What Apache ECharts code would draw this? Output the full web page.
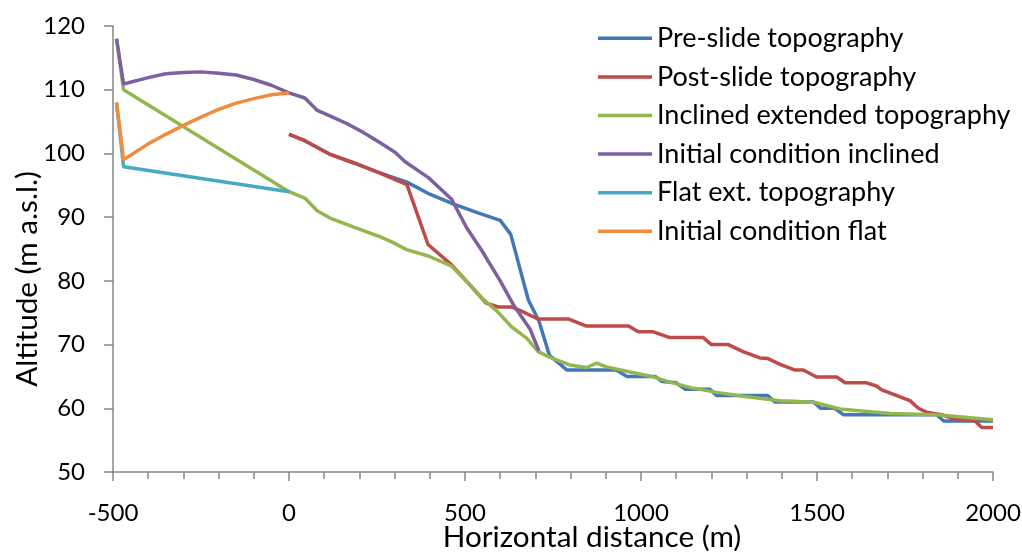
<!DOCTYPE html>
<html>
<head>
<meta charset="utf-8">
<script src="https://cdn.jsdelivr.net/npm/echarts@6/dist/echarts.min.js"></script>
<style>
html,body{margin:0;padding:0;background:#fff;}
#chart{width:1022px;height:556px;}
</style>
</head>
<body>
<div id="chart"></div>
<script>
var seriesNames = ['Pre-slide topography','Post-slide topography','Inclined extended topography','Initial condition inclined','Flat ext. topography','Initial condition flat'];
var xTicks = [-500, 0, 500, 1000, 1500, 2000];
var yTicks = [50, 60, 70, 80, 90, 100, 110, 120];

var preSlide = [[0,103],[45,102],[115,99.9],[185,98.5],[250,97.1],[335,95.5],[400,93.6],[470,92],[535,90.7],[600,89.5],[630,87.3],[680,77],[710,73.7],[740,68.3],[790,66],[930,66],[960,65],[1040,65],[1060,64.2],[1100,64],[1125,63],[1195,63],[1215,62],[1360,62],[1380,61],[1490,61],[1510,60],[1550,60],[1575,59],[1840,59],[1860,58],[2000,58]];
var postSlide = [[0,103],[45,102],[115,99.9],[185,98.5],[250,97.1],[335,95.1],[395,85.7],[462,82.5],[520,79],[560,76.5],[595,75.9],[632,75.9],[670,75],[708,74],[795,74],[845,72.9],[965,72.9],[992,72],[1035,72],[1082,71.1],[1177,71.1],[1200,70],[1248,70],[1290,68.9],[1338,67.9],[1361,67.8],[1395,66.9],[1438,66],[1461,66],[1499,64.9],[1556,64.9],[1580,64],[1641,64],[1669,63.5],[1684,62.9],[1764,61.2],[1788,60],[1811,59.4],[1854,59],[1887,58.4],[1949,58],[1968,57],[2000,57]];
var inclinedExt = [[-490,118],[-470,110],[0,94],[45,93],[80,91],[115,89.9],[190,88.3],[260,86.9],[296,86],[334,84.9],[396,83.9],[462,82.3],[514,79.4],[552,77.1],[590,75.3],[632,72.8],[675,71],[708,68.9],[741,68],[798,66.8],[845,66.4],[874,67.1],[902,66.5],[969,65.7],[1030,65],[1082,64.1],[1144,63.2],[1215,62.5],[1290,61.9],[1395,61.2],[1433,61.1],[1494,60.9],[1565,59.9],[1707,59.2],[1840,59],[2000,58.2]];
var initInclined = [[-490,118],[-470,110.9],[-400,111.9],[-350,112.5],[-300,112.7],[-250,112.8],[-200,112.6],[-150,112.3],[-100,111.6],[-50,110.7],[0,109.5],[45,108.7],[79,106.8],[116,105.9],[164,104.7],[211,103.3],[258,101.7],[301,100.2],[330,98.7],[396,96.2],[462,92.8],[505,88.3],[545,85],[600,80],[637,76.3],[685,72.4],[710,69]];
var flatExt = [[-490,108],[-470,97.9],[0,94]];
var initFlat = [[-490,108],[-470,99],[-450,99.7],[-400,101.5],[-350,103],[-300,104.4],[-250,105.7],[-200,106.9],[-150,107.9],[-100,108.6],[-50,109.2],[0,109.5]];

var colors = ['#4477B8','#BE4B48','#93B74F','#7D60A0','#46AAC5','#F08C3E'];
var allData = [preSlide, postSlide, inclinedExt, initInclined, flatExt, initFlat];
var FONT = 'Lato';

var chart = echarts.init(document.getElementById('chart'));
chart.setOption({
  animation: false,
  color: colors,
  grid: {left: 113, right: 29, top: 26, bottom: 84, containLabel: false, outerBoundsMode: 'none'},
  legend: {
    orient: 'vertical', left: 593, top: 14,
    icon: 'rect',
    itemWidth: 54, itemHeight: 3.5, itemGap: 0,
    textStyle: {fontFamily: FONT, fontSize: 27, color: '#000', lineHeight: 38.6},
    data: seriesNames
  },
  xAxis: {
    type: 'value', min: xTicks[0], max: xTicks[xTicks.length-1], interval: 500,
    name: 'Horizontal distance (m)', nameLocation: 'middle', nameGap: 50, nameMoveOverlap: false,
    nameTextStyle: {fontFamily: FONT, fontSize: 29.7, color: '#000', padding: [0, 0, 0, 78]},
    axisLine: {show: true, onZero: false, lineStyle: {color: '#868686', width: 1.5}},
    axisTick: {show: true, length: 9, lineStyle: {color: '#868686', width: 1.5}},
    minorTick: {show: true, splitNumber: 5, length: 7, lineStyle: {color: '#868686', width: 1.5}},
    axisLabel: {fontFamily: FONT, fontSize: 24, color: '#000', margin: 29, formatter: function(v){ return String(v); }},
    splitLine: {show: false}
  },
  yAxis: {
    type: 'value', min: yTicks[0], max: yTicks[yTicks.length-1], interval: 10,
    name: 'Altitude (m a.s.l.)', nameLocation: 'middle', nameGap: 71, nameMoveOverlap: false,
    nameTextStyle: {fontFamily: FONT, fontSize: 29.7, color: '#000', padding: [0, 60, 0, 0]},
    axisLine: {show: true, onZero: false, lineStyle: {color: '#868686', width: 1.5}},
    axisTick: {show: true, length: 9, lineStyle: {color: '#868686', width: 1.5}},
    axisLabel: {fontFamily: FONT, fontSize: 24, color: '#000', margin: 28, formatter: function(v){ return String(v); }},
    splitLine: {show: false}
  },
  series: seriesNames.map(function(n, i){
    return {
      name: n, type: 'line', data: allData[i],
      symbol: 'none', showSymbol: false,
      lineStyle: {width: 3.5, color: colors[i]},
      itemStyle: {color: colors[i]}
    };
  })
});
</script>
</body>
</html>
